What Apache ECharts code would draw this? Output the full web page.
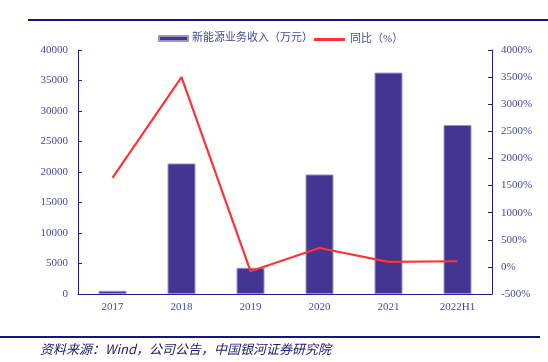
<!DOCTYPE html>
<html><head><meta charset="utf-8">
<script src="https://cdn.jsdelivr.net/npm/echarts@6/dist/echarts.min.js"></script>
<style>html,body{margin:0;padding:0;background:#fff}#c{width:548px;height:362px}</style>
</head><body><div id="c"></div>
<script>
const categories = ['2017','2018','2019','2020','2021','2022H1'];
const revenue = [530, 21400, 4300, 19600, 36300, 27700];
const yoy = [1643, 3500, -79, 348, 92, 104];
const leftTicks = [0, 40000, 5000];
const rightTicks = [-500, 4000, 500];
const barName = '新能源业务收入（万元）';
const lineName = '同比（%）';
const source = '资料来源：Wind，公司公告，中国银河证券研究院';

const FONT = '"Liberation Serif","Noto Sans CJK SC",serif';
const AX = '#1f1f8f';
const LBL = '#4848a4';
const chart = echarts.init(document.getElementById('c'));
chart.setOption({
  animation: false,
  textStyle: {fontFamily: FONT},
  grid: {left: 78, right: 56, top: 50, bottom: 68},
  legend: [
    {data: [{name: barName, icon: 'rect'}], left: 158, top: 33, padding: 0, itemWidth: 29, itemHeight: 5, itemGap: 4,
     textStyle: {fontSize: 11, color: LBL, fontFamily: FONT, padding: [0, 0, 0, -1]}},
    {data: [{name: lineName, icon: 'rect'}], left: 314, top: 34, padding: 0, itemWidth: 31, itemHeight: 3, itemGap: 4,
     textStyle: {fontSize: 11, color: LBL, fontFamily: FONT}}
  ],
  xAxis: {
    type: 'category', data: categories,
    axisLine: {lineStyle: {color: AX, width: 1}},
    axisTick: {show: false},
    axisLabel: {color: LBL, fontSize: 11, margin: 8, fontFamily: FONT}
  },
  yAxis: [
    {type: 'value', min: leftTicks[0], max: leftTicks[1], interval: leftTicks[2],
     axisLine: {show: true, lineStyle: {color: AX}},
     axisTick: {show: true, inside: true, length: 4, lineStyle: {color: AX}},
     splitLine: {show: false},
     axisLabel: {color: LBL, fontSize: 11, margin: 10, fontFamily: FONT, formatter: v => String(v)}},
    {type: 'value', min: rightTicks[0], max: rightTicks[1], interval: rightTicks[2],
     position: 'right',
     axisLine: {show: true, lineStyle: {color: AX}},
     axisTick: {show: true, inside: true, length: 4, lineStyle: {color: AX}},
     splitLine: {show: false},
     axisLabel: {color: LBL, fontSize: 11, margin: 9, fontFamily: FONT, formatter: v => v + '%'}}
  ],
  series: [
    {name: barName, type: 'bar', data: revenue, barWidth: 28, yAxisIndex: 0,
     itemStyle: {color: '#433591', borderColor: '#9d96cc', borderWidth: 1}},
    {name: lineName, type: 'line', data: yoy, yAxisIndex: 1, symbol: 'none',
     lineStyle: {color: '#ff3333', width: 2.2}, itemStyle: {color: '#ff3333'}}
  ],
  graphic: [
    {type: 'line', shape: {x1: 28, y1: 20, x2: 548, y2: 20}, style: {stroke: '#14148a', lineWidth: 2}},
    {type: 'line', shape: {x1: 0, y1: 337, x2: 540, y2: 337}, style: {stroke: '#14148a', lineWidth: 2}},
    {type: 'text', left: 40, top: 343, style: {text: source, fill: '#1a1a70',
      font: 'italic 13px "Noto Sans CJK SC", sans-serif'}}
  ]
});
</script></body></html>
